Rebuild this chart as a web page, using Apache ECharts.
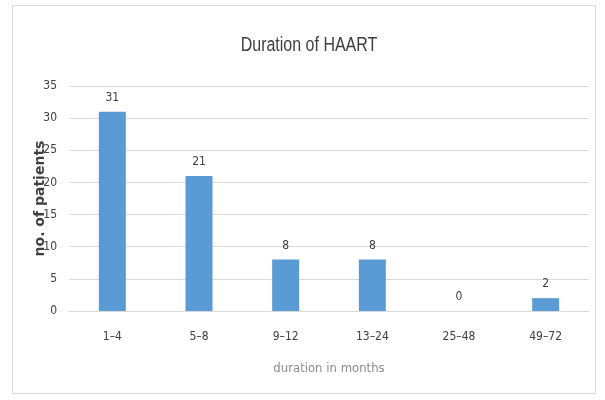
<!DOCTYPE html>
<html>
<head>
<meta charset="utf-8">
<script src="https://cdn.jsdelivr.net/npm/echarts@6/dist/echarts.min.js"></script>
<style>
  html, body { margin: 0; padding: 0; background: #ffffff; }
  #chart { width: 605px; height: 400px; }
</style>
</head>
<body>
<div id="chart"></div>
<script>
// Patients grouped by how long they have been on HAART
const durations = ['1–4', '5–8', '9–12', '13–24', '25–48', '49–72'];
const patients = [31, 21, 8, 8, 0, 2];
const yTicks = { min: 0, max: 35, step: 5 };

const narrow = '"Liberation Sans Narrow", "DejaVu Sans Condensed", "Liberation Sans", sans-serif';

const chart = echarts.init(document.getElementById('chart'), null, { renderer: 'canvas' });
chart.setOption({
  animation: false,
  backgroundColor: '#ffffff',
  graphic: [
    {
      type: 'rect',
      shape: { x: 12.5, y: 5.5, width: 583, height: 388 },
      style: { fill: 'none', stroke: '#d9d9d9', lineWidth: 1 },
      silent: true
    },
    {
      // condensed chart title
      type: 'text',
      x: 309,
      y: 45,
      scaleX: 0.8,
      style: {
        text: 'Duration of HAART',
        font: '20px "Liberation Sans", sans-serif',
        fill: '#404040',
        textAlign: 'center',
        textVerticalAlign: 'middle'
      },
      silent: true
    }
  ],
  grid: { left: 69, right: 16, top: 86, bottom: 89, containLabel: false },
  xAxis: {
    type: 'category',
    data: durations,
    name: 'duration in months',
    nameLocation: 'middle',
    nameGap: 51,
    nameTextStyle: { fontFamily: narrow, fontSize: 13, color: '#8c8c8c' },
    axisLine: { lineStyle: { color: '#d9d9d9' } },
    axisTick: { show: false },
    axisLabel: { fontFamily: narrow, fontSize: 12, color: '#404040', margin: 20 }
  },
  yAxis: {
    type: 'value',
    min: yTicks.min,
    max: yTicks.max,
    interval: yTicks.step,
    name: 'no. of patients',
    nameLocation: 'middle',
    nameGap: 22,
    nameMoveOverlap: false,
    nameTextStyle: { fontFamily: '"DejaVu Sans", sans-serif', fontSize: 14, fontWeight: 'bold', color: '#404040' },
    axisLine: { show: false },
    axisTick: { show: false },
    axisLabel: { fontFamily: narrow, fontSize: 12, color: '#404040', margin: 12 },
    splitLine: { lineStyle: { color: '#d9d9d9' } }
  },
  series: [{
    type: 'bar',
    data: patients,
    barWidth: 27,
    itemStyle: { color: '#5b9bd5' },
    label: {
      show: true,
      position: 'top',
      distance: 8,
      fontFamily: narrow,
      fontSize: 12,
      color: '#404040'
    }
  }]
});
</script>
</body>
</html>
